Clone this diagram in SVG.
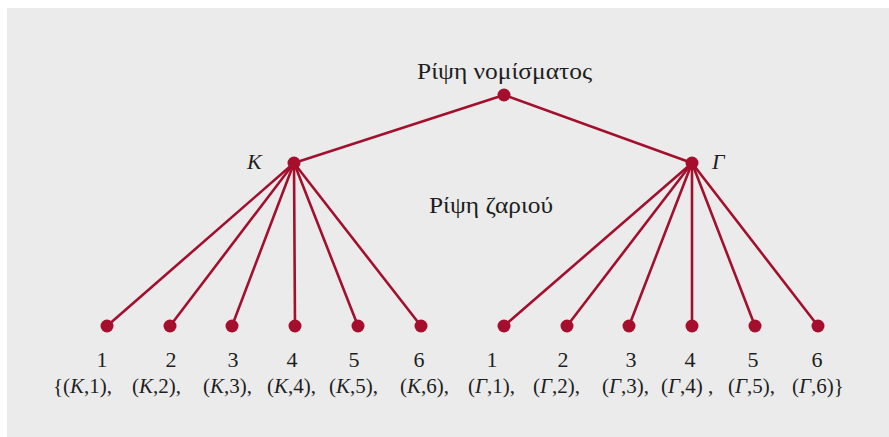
<svg xmlns="http://www.w3.org/2000/svg" width="889" height="437" viewBox="0 0 889 437">
  <style>
    .edge { stroke: #a3102d; stroke-width: 2.6; fill: none; stroke-linecap: round; }
    .dot { fill: #a50f2d; }
    .lbl { font-family: "Liberation Serif", "Times New Roman", serif; fill: #1e1e1e; }
    .title { font-size: 23px; text-anchor: middle; }
    .num { font-size: 22px; text-anchor: middle; }
    .tup { font-size: 21px; }
    .it { font-style: italic; }
  </style>
  <rect x="0" y="0" width="889" height="437" fill="#ffffff"/>
  <rect x="7" y="8" width="882" height="429" fill="#ebebeb"/>

  <g id="connectors">
    <line class="edge" x1="504" y1="95" x2="294" y2="163"/>
    <line class="edge" x1="504" y1="95" x2="692" y2="163"/>
    <line class="edge" x1="294" y1="163" x2="107" y2="326"/>
    <line class="edge" x1="294" y1="163" x2="170" y2="326"/>
    <line class="edge" x1="294" y1="163" x2="232" y2="326"/>
    <line class="edge" x1="294" y1="163" x2="295" y2="326"/>
    <line class="edge" x1="294" y1="163" x2="358" y2="326"/>
    <line class="edge" x1="294" y1="163" x2="421" y2="326"/>
    <line class="edge" x1="692" y1="163" x2="504" y2="326"/>
    <line class="edge" x1="692" y1="163" x2="567" y2="326"/>
    <line class="edge" x1="692" y1="163" x2="629" y2="326"/>
    <line class="edge" x1="692" y1="163" x2="692" y2="326"/>
    <line class="edge" x1="692" y1="163" x2="755" y2="326"/>
    <line class="edge" x1="692" y1="163" x2="818" y2="326"/>
  </g>

  <g id="root">
    <circle class="dot" cx="504" cy="95" r="6.5"/>
    <text class="lbl title" x="504.5" y="79" textLength="175" lengthAdjust="spacingAndGlyphs">Ρίψη νομίσματος</text>
  </g>

  <g id="coin-K">
    <circle class="dot" cx="294" cy="163" r="6.5"/>
    <text class="lbl it" x="247" y="169" font-size="22">K</text>
  </g>
  <g id="coin-G">
    <circle class="dot" cx="692" cy="163" r="6.5"/>
    <text class="lbl it" x="712" y="169" font-size="22">Γ</text>
  </g>

  <g id="die-label">
    <text class="lbl title" x="491" y="213" textLength="124" lengthAdjust="spacingAndGlyphs">Ρίψη ζαριού</text>
  </g>

  <g id="leaf-K1"><circle class="dot" cx="107" cy="326" r="6.5"/><text class="lbl num" x="102" y="367">1</text></g>
  <g id="leaf-K2"><circle class="dot" cx="170" cy="326" r="6.5"/><text class="lbl num" x="171" y="367">2</text></g>
  <g id="leaf-K3"><circle class="dot" cx="232" cy="326" r="6.5"/><text class="lbl num" x="233" y="367">3</text></g>
  <g id="leaf-K4"><circle class="dot" cx="295" cy="326" r="6.5"/><text class="lbl num" x="292" y="367">4</text></g>
  <g id="leaf-K5"><circle class="dot" cx="358" cy="326" r="6.5"/><text class="lbl num" x="354" y="367">5</text></g>
  <g id="leaf-K6"><circle class="dot" cx="421" cy="326" r="6.5"/><text class="lbl num" x="419" y="367">6</text></g>
  <g id="leaf-G1"><circle class="dot" cx="504" cy="326" r="6.5"/><text class="lbl num" x="492" y="367">1</text></g>
  <g id="leaf-G2"><circle class="dot" cx="567" cy="326" r="6.5"/><text class="lbl num" x="563" y="367">2</text></g>
  <g id="leaf-G3"><circle class="dot" cx="629" cy="326" r="6.5"/><text class="lbl num" x="631" y="367">3</text></g>
  <g id="leaf-G4"><circle class="dot" cx="692" cy="326" r="6.5"/><text class="lbl num" x="690" y="367">4</text></g>
  <g id="leaf-G5"><circle class="dot" cx="755" cy="326" r="6.5"/><text class="lbl num" x="753" y="367">5</text></g>
  <g id="leaf-G6"><circle class="dot" cx="818" cy="326" r="6.5"/><text class="lbl num" x="817" y="367">6</text></g>

  <g id="sample-space">
    <text class="lbl tup" x="53" y="393">{(<tspan class="it">K</tspan>,1),</text>
    <text class="lbl tup" x="132" y="393">(<tspan class="it">K</tspan>,2),</text>
    <text class="lbl tup" x="203" y="393">(<tspan class="it">K</tspan>,3),</text>
    <text class="lbl tup" x="267" y="393">(<tspan class="it">K</tspan>,4),</text>
    <text class="lbl tup" x="329" y="393">(<tspan class="it">K</tspan>,5),</text>
    <text class="lbl tup" x="400" y="393">(<tspan class="it">K</tspan>,6),</text>
    <text class="lbl tup" x="468" y="393">(<tspan class="it">Γ</tspan>,1),</text>
    <text class="lbl tup" x="533" y="393">(<tspan class="it">Γ</tspan>,2),</text>
    <text class="lbl tup" x="602" y="393">(<tspan class="it">Γ</tspan>,3),</text>
    <text class="lbl tup" x="661" y="393">(<tspan class="it">Γ</tspan>,4) ,</text>
    <text class="lbl tup" x="728" y="393">(<tspan class="it">Γ</tspan>,5),</text>
    <text class="lbl tup" x="792" y="393">(<tspan class="it">Γ</tspan>,6)}</text>
  </g>
</svg>
